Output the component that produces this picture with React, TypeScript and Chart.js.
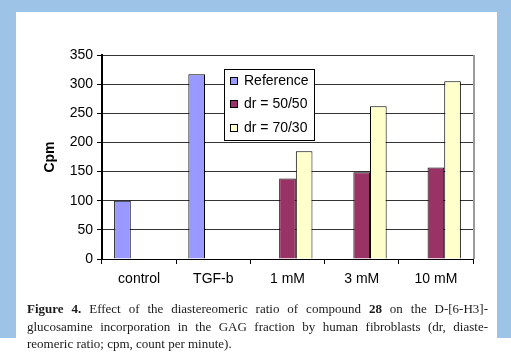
import React, { useEffect, useRef } from "react";
import { Chart, registerables } from "chart.js";

Chart.register(...registerables);

const categories = ["control", "TGF-b", "1 mM", "3 mM", "10 mM"];
const seriesNames = ["Reference", "dr = 50/50", "dr = 70/30"];
const referenceValues = [100, 317, null, null, null];
const dr5050Values = [null, null, 138, 149, 157];
const dr7030Values = [null, null, 185, 262, 305];
const yTicks = [0, 50, 100, 150, 200, 250, 300, 350];
const seriesColors = ["#9999ff", "#993366", "#ffffcc"];
const yTitle = "Cpm";

const FONT = "'Liberation Sans', Arial, sans-serif";

const customPlugin = {
  id: "customDecor",
  afterDraw(chart: any) {
    const ctx = chart.ctx;
    const { left, right, top, bottom } = chart.chartArea;
    ctx.save();
    // right border
    ctx.strokeStyle = "#9a9a9a";
    ctx.lineWidth = 2;
    ctx.beginPath();
    ctx.moveTo(right + 1, top);
    ctx.lineTo(right + 1, bottom);
    ctx.stroke();

    // y title
    ctx.save();
    ctx.translate(34, (top + bottom) / 2);
    ctx.rotate(-Math.PI / 2);
    ctx.fillStyle = "#000";
    ctx.font = `bold 14px ${FONT}`;
    ctx.textAlign = "center";
    ctx.textBaseline = "middle";
    ctx.fillText(yTitle, 0, 0);
    ctx.restore();

    // legend
    const bx = left + 122;
    const by = top + 14;
    const bw = 90;
    const bh = 71;
    ctx.fillStyle = "#fff";
    ctx.fillRect(bx, by, bw, bh);
    ctx.strokeStyle = "#000";
    ctx.lineWidth = 1;
    ctx.strokeRect(bx + 0.5, by + 0.5, bw, bh);
    const rows = [12, 35, 59];
    ctx.font = `14px ${FONT}`;
    ctx.textBaseline = "middle";
    ctx.textAlign = "left";
    seriesNames.forEach((name, i) => {
      const cy = by + rows[i];
      ctx.fillStyle = seriesColors[i];
      ctx.fillRect(bx + 6, cy - 4, 8, 8);
      ctx.strokeStyle = "#000";
      ctx.strokeRect(bx + 6.5, cy - 3.5, 7, 7);
      ctx.fillStyle = "#000";
      ctx.fillText(name, bx + 20, cy);
    });
    ctx.restore();
  },
};

function BarChart() {
  const ref = useRef<HTMLCanvasElement>(null);
  useEffect(() => {
    if (!ref.current) return;
    const chart = new Chart(ref.current, {
      type: "bar",
      data: {
        labels: categories,
        datasets: [referenceValues, dr5050Values, dr7030Values].map((d, i) => ({
          label: seriesNames[i],
          data: d as any,
          backgroundColor: seriesColors[i],
          borderColor: "#000",
          borderWidth: 1,
          categoryPercentage: 0.673,
          barPercentage: 1,
        })),
      },
      options: {
        animation: false,
        responsive: false,
        maintainAspectRatio: false,
        layout: { padding: { left: 0, top: 43, right: 24, bottom: 0 } },
        plugins: { legend: { display: false }, tooltip: { enabled: false } },
        scales: {
          x: {
            grid: {
              display: true,
              drawOnChartArea: false,
              drawTicks: true,
              tickLength: 5,
              color: "#000",
              offset: true,
            },
            border: { color: "#000", width: 1 },
            ticks: { color: "#000", font: { family: FONT, size: 14 }, padding: 7 },
            afterFit: (s: any) => {
              s.height = 43;
            },
          },
          y: {
            min: 0,
            max: 350,
            afterBuildTicks: (s: any) => {
              s.ticks = yTicks.map((v) => ({ value: v }));
            },
            grid: { color: "#333", tickColor: "#000", tickLength: 5, lineWidth: 1 },
            border: { color: "#000", width: 2 },
            ticks: { color: "#000", font: { family: FONT, size: 14 }, padding: 4 },
            afterFit: (s: any) => {
              s.width = 86;
            },
          },
        },
      },
      plugins: [customPlugin],
    });
    return () => chart.destroy();
  }, []);
  return (
    <canvas
      ref={ref}
      width={481}
      height={290}
      style={{ position: "absolute", left: 16, top: 12, width: 481, height: 290 }}
    />
  );
}

const lineStyle: React.CSSProperties = {
  textAlign: "justify",
  textAlignLast: "justify" as any,
  height: 17.5,
};

export default function App() {
  return (
    <div
      style={{
        position: "fixed",
        left: 0,
        top: 0,
        width: 511,
        height: 357,
        background: "#fff",
        overflow: "hidden",
      }}
    >
      <div style={{ position: "absolute", left: 0, top: 0, width: 511, height: 12, background: "#9dc3e6" }} />
      <div style={{ position: "absolute", left: 0, top: 0, width: 16, height: 338, background: "#9dc3e6" }} />
      <div style={{ position: "absolute", left: 497, top: 0, width: 14, height: 338, background: "#9dc3e6" }} />
      <BarChart />
      <div
        style={{
          position: "absolute",
          left: 27,
          top: 300,
          width: 461,
          fontFamily: "'Liberation Serif', 'Times New Roman', serif",
          fontSize: 13,
          lineHeight: "17.5px",
          color: "#1a1a1a",
        }}
      >
        <div style={lineStyle}>
          <b>Figure 4.</b> Effect of the diastereomeric ratio of compound <b>28</b> on the D-[6-H3]-
        </div>
        <div style={lineStyle}>
          glucosamine incorporation in the GAG fraction by human fibroblasts (dr, diaste-
        </div>
        <div style={{ textAlign: "left" }}>reomeric ratio; cpm, count per minute).</div>
      </div>
    </div>
  );
}
